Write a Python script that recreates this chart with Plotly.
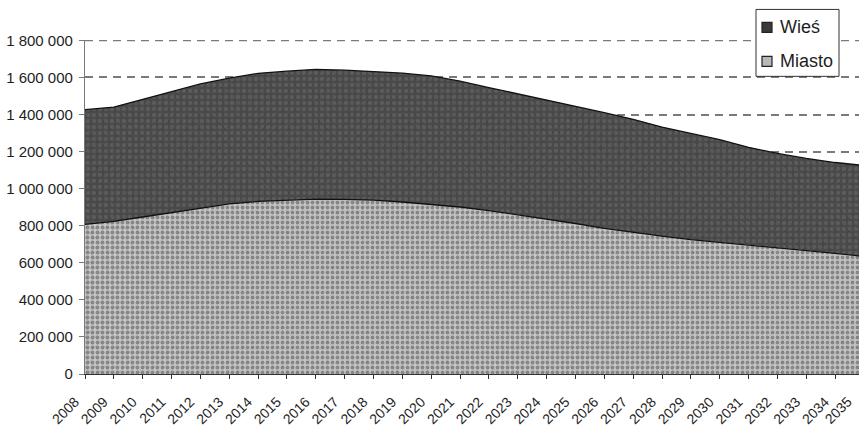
import plotly.graph_objects as go

# Population by place of residence, 2008-2035
years = list(range(2008, 2036))
miasto = [807000, 823000, 847000, 871000, 896000, 918000, 931000, 939000, 943000, 942000,
          938000, 928000, 915000, 901000, 882000, 860000, 835000, 812000, 786000, 764000,
          744000, 725000, 711000, 697000, 683000, 667000, 651000, 635000]
wies = [619000, 617000, 635000, 652000, 669000, 678000, 691000, 695000, 700000, 697000,
        694000, 695000, 693000, 679000, 663000, 652000, 643000, 631000, 624000, 610000,
        588000, 573000, 553000, 526000, 507000, 496000, 490000, 490000]
series_names = ["Miasto", "Wieś"]
total = [m + w for m, w in zip(miasto, wies)]

y_ticks = [0, 200000, 400000, 600000, 800000, 1000000, 1200000, 1400000, 1600000, 1800000]
y_tick_labels = ["0", "200 000", "400 000", "600 000", "800 000", "1 000 000",
                 "1 200 000", "1 400 000", "1 600 000", "1 800 000"]
x_tick_labels = [str(y) for y in years]

W, H = 859, 431
ML, MR, MT, MB = 85, 0, 39.6, 57
PW, PH = W - ML - MR, H - MT - MB
YEAR_PX = 28.85                     # horizontal spacing of one year
X_END = years[0] + PW / YEAR_PX     # the view stops just short of the last year
Y_TOP = 1802000

FONT = "Liberation Sans, Arial, sans-serif"
TXT = "#1e1e1e"
GRID = "#7a7a7a"


def px_x(px):
    return (px - ML) / PW


def px_y(py):
    return (H - MB - py) / PH


fig = go.Figure()

# Stacked areas with a base texture
fig.add_trace(go.Scatter(
    x=years, y=miasto, name=series_names[0], stackgroup="pop", mode="none",
    fillcolor="#b4b4b4",
    fillpattern=dict(shape=".", bgcolor="#c6c6c6", fgcolor="#4a4a4a",
                     size=5, solidity=0.45),
))
fig.add_trace(go.Scatter(
    x=years, y=wies, name=series_names[1], stackgroup="pop", mode="none",
    fillcolor="#505050",
    fillpattern=dict(shape=".", bgcolor="#4a4a4a", fgcolor="#6e6e6e",
                     size=6, solidity=0.4),
))

# Second texture layer to break up the regular grain
fig.add_trace(go.Scatter(
    x=years, y=miasto, mode="none", fill="tozeroy",
    fillcolor="rgba(0,0,0,0)",
    fillpattern=dict(shape="x", bgcolor="rgba(0,0,0,0)", fgcolor="rgba(60,60,60,0.55)",
                     size=7, solidity=0.12),
    hoverinfo="skip",
))
fig.add_trace(go.Scatter(
    x=years + years[::-1], y=total + miasto[::-1], mode="none", fill="toself",
    fillcolor="rgba(0,0,0,0)",
    fillpattern=dict(shape="x", bgcolor="rgba(0,0,0,0)", fgcolor="rgba(40,40,40,0.6)",
                     size=9, solidity=0.15),
    hoverinfo="skip",
))

# Boundary lines of both areas
for ys in (miasto, total):
    fig.add_trace(go.Scatter(
        x=years, y=ys, mode="lines", line=dict(color="#111111", width=1.3),
        hoverinfo="skip",
    ))

fig.update_layout(
    width=W, height=H,
    margin=dict(l=ML, r=MR, t=MT, b=MB, pad=0),
    paper_bgcolor="white", plot_bgcolor="white",
    font=dict(family=FONT, color=TXT),
    showlegend=False,
)

fig.update_xaxes(
    range=[years[0], X_END],
    tickmode="array", tickvals=years, ticktext=x_tick_labels,
    tickangle=-45, tickfont=dict(size=14, family=FONT, color=TXT),
    showgrid=False, zeroline=False,
    showline=True, linecolor="#333333", linewidth=1.3,
    ticks="outside", ticklen=4, tickcolor="#333333", tickwidth=1,
    ticklabelstandoff=9, ticklabelshift=-10,
)
fig.update_yaxes(
    range=[0, Y_TOP],
    tickmode="array", tickvals=y_ticks, ticktext=y_tick_labels,
    tickfont=dict(size=15, family=FONT, color=TXT),
    showgrid=True, gridcolor=GRID, gridwidth=1.6, griddash="8px,6px",
    zeroline=False,
    showline=True, linecolor=GRID, linewidth=1.2,
    ticks="outside", ticklen=5, tickcolor=GRID, tickwidth=1,
    ticklabelstandoff=3,
)

shapes = [
    # top gridline, which sits on the upper edge of the plotting area
    dict(type="line", xref="paper", yref="y", x0=0, x1=1, y0=y_ticks[-1], y1=y_ticks[-1],
         line=dict(color=GRID, width=1.6, dash="8px,6px"), layer="below"),
]

# Legend box drawn as shapes and text
legend_items = [
    (series_names[1], 27, "#3a3a3a"),
    (series_names[0], 61, "#b8b8b8"),
]
shapes.append(dict(type="rect", xref="paper", yref="paper",
                   x0=px_x(756), x1=px_x(839), y0=px_y(76), y1=px_y(9),
                   fillcolor="white", line=dict(color="#333333", width=1), layer="above"))
annotations = []
for label, cy, col in legend_items:
    shapes.append(dict(type="rect", xref="paper", yref="paper",
                       x0=px_x(762), x1=px_x(772), y0=px_y(cy + 5), y1=px_y(cy - 5),
                       fillcolor=col, line=dict(color="#222222", width=1.2), layer="above"))
    annotations.append(dict(xref="paper", yref="paper", x=px_x(778), y=px_y(cy),
                            text=label, showarrow=False, xanchor="left", yanchor="middle",
                            font=dict(size=18, family=FONT, color=TXT)))

# Label of the last year, whose tick lies just past the right edge
annotations.append(dict(xref="paper", yref="paper", x=px_x(858), y=px_y(391),
                        text=x_tick_labels[-1], textangle=-45, showarrow=False,
                        xanchor="right", yanchor="top",
                        font=dict(size=14, family=FONT, color=TXT)))
fig.update_layout(shapes=shapes, annotations=annotations)

fig.write_html("out.html")
